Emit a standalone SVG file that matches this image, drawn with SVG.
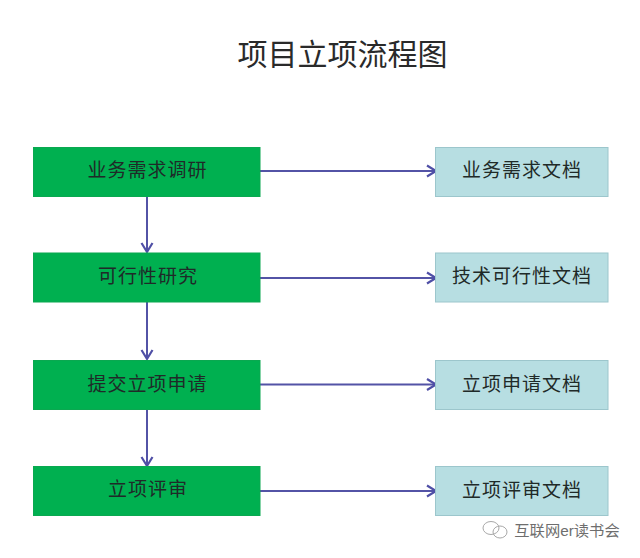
<svg xmlns="http://www.w3.org/2000/svg" width="640" height="558" viewBox="0 0 640 558">
<style>
text{font-family:"Liberation Sans","Noto Sans CJK SC",sans-serif;text-anchor:middle}
.l{fill:#00b050;stroke:#0aa850;stroke-width:1}
.r{fill:#b7dee2;stroke:#9cc6cc;stroke-width:1}
.t{font-size:19px;fill:#1f2a28;letter-spacing:1px}
.c{fill:none;stroke:#5353a6;stroke-width:2;marker-end:url(#a)}
.i{fill:none;stroke:#a8a8a8;stroke-width:1}
</style>
<defs><marker id="a" markerUnits="userSpaceOnUse" markerWidth="14" markerHeight="14" refX="11" refY="7" orient="auto"><path d="M2 1.500L11 7L2 12.500" fill="none" stroke="#4f4fa6" stroke-width="2.200"/></marker></defs>
<rect width="640" height="558" fill="#fff"/>
<text id="title" x="342.500" y="65" font-size="30" fill="#2a2a2a">项目立项流程图</text>
<g id="connectors">
<path class="c" d="M260 171H436"/>
<path class="c" d="M260 278H436"/>
<path class="c" d="M260 384.500H436"/>
<path class="c" d="M260 491H436"/>
<path class="c" d="M147 196V252"/>
<path class="c" d="M147 302V359"/>
<path class="c" d="M147 410V466"/>
</g>
<g id="n1"><rect class="l" x="33.500" y="147.500" width="226.500" height="49"/><text class="t" x="147.500" y="177">业务需求调研</text></g>
<g id="n2"><rect class="l" x="33.500" y="253" width="226.500" height="49"/><text class="t" x="148" y="283">可行性研究</text></g>
<g id="n3"><rect class="l" x="33.500" y="360.500" width="226.500" height="49"/><text class="t" x="147.500" y="391">提交立项申请</text></g>
<g id="n4"><rect class="l" x="33.500" y="466.500" width="226.500" height="49"/><text class="t" x="148" y="496">立项评审</text></g>
<g id="d1"><rect class="r" x="435.500" y="147.500" width="172.500" height="49"/><text class="t" x="522" y="177">业务需求文档</text></g>
<g id="d2"><rect class="r" x="435.500" y="253" width="172.500" height="49"/><text class="t" x="522" y="283">技术可行性文档</text></g>
<g id="d3"><rect class="r" x="435.500" y="360.500" width="172.500" height="49"/><text class="t" x="522" y="391">立项申请文档</text></g>
<g id="d4"><rect class="r" x="435.500" y="466.500" width="172.500" height="49"/><text class="t" x="522" y="497">立项评审文档</text></g>
<g id="watermark">
<ellipse class="i" cx="491" cy="528" rx="8" ry="6.500"/>
<ellipse class="i" cx="500" cy="532" rx="7" ry="6"/>
<text x="567" y="536" font-size="15.300" fill="#6e6e6e">互联网er读书会</text>
</g>
</svg>
